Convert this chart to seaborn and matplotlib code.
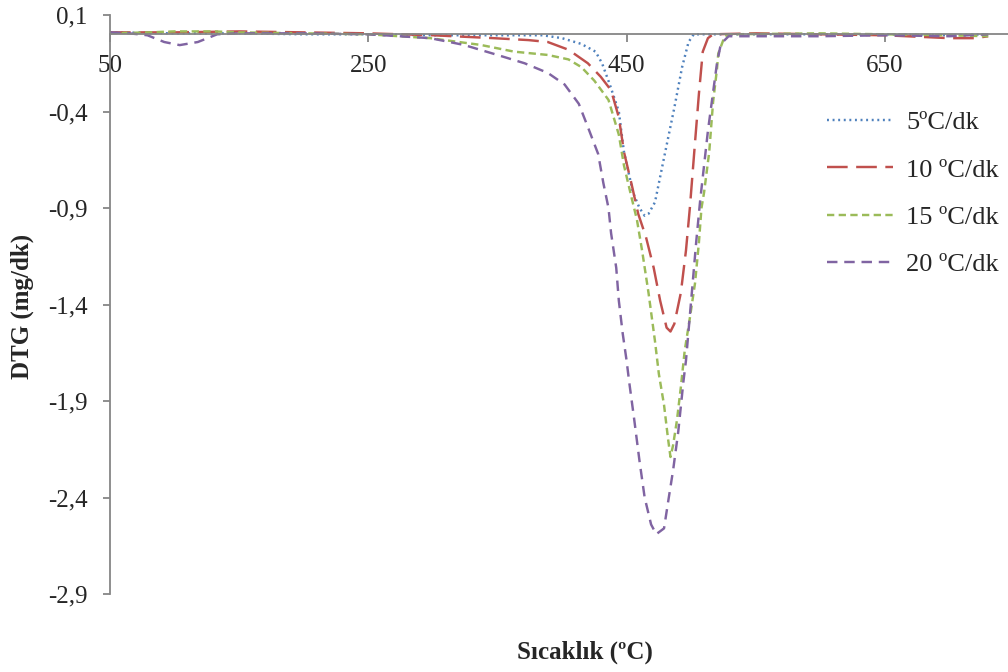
import pandas as pd
import matplotlib
matplotlib.use("Agg")
import matplotlib.pyplot as plt
import seaborn as sns

# DTG curves (temperature in C, DTG in mg/dk)
t5 = [50, 100, 150, 200, 250, 300, 350, 385, 400, 415, 426, 431, 437, 444, 448,
      455, 460, 464, 467, 472, 479, 487, 493, 498, 502, 550, 600, 650, 700, 730]
d5 = [0.01, 0.005, 0.005, 0.0, 0.0, -0.005, -0.005, -0.005, -0.02, -0.05, -0.09, -0.15, -0.26, -0.40, -0.61,
      -0.82, -0.90, -0.94, -0.93, -0.87, -0.64, -0.38, -0.17, -0.04, 0.0, 0.0, 0.0, 0.0, -0.005, 0.0]

t10 = [50, 100, 150, 200, 250, 300, 347, 374, 389, 405, 420, 430, 438, 444, 448, 454, 459, 465, 471,
       476, 481, 484, 487, 492, 496, 499, 503, 506, 509, 513, 517, 550, 600, 650, 700, 720, 730]
d10 = [0.01, 0.01, 0.015, 0.01, 0.005, -0.005, -0.02, -0.03, -0.04, -0.08, -0.15, -0.22, -0.29, -0.43,
       -0.61, -0.78, -0.93, -1.05, -1.21, -1.38, -1.52, -1.54, -1.50, -1.34, -1.12, -0.90, -0.56, -0.31,
       -0.09, -0.02, 0.0, 0.005, 0.0, -0.005, -0.02, -0.02, -0.01]

t15 = [50, 80, 100, 130, 150, 200, 250, 298, 337, 363, 389, 405, 415, 425, 436, 444, 448, 454, 458,
       462, 467, 472, 475, 479, 482, 484, 486, 489, 492, 495, 499, 503, 506, 508, 510, 514, 517, 520,
       521, 526, 531, 600, 650, 700, 730]
d15 = [0.005, 0.01, 0.015, 0.015, 0.01, 0.005, 0.0, -0.02, -0.055, -0.09, -0.107, -0.13, -0.17, -0.24,
       -0.34, -0.52, -0.68, -0.85, -0.96, -1.12, -1.34, -1.59, -1.76, -1.92, -2.09, -2.19, -2.13, -2.00,
       -1.83, -1.64, -1.47, -1.29, -1.08, -0.90, -0.82, -0.61, -0.35, -0.18, -0.10, -0.01, 0.0, 0.005,
       0.0, -0.005, -0.01]

t20 = [50, 65, 79, 92, 104, 118, 133, 150, 200, 250, 298, 324, 350, 371, 389, 402, 413, 420, 428, 432,
       436, 438, 442, 444, 447, 450, 452, 456, 460, 464, 469, 473, 479, 482, 486, 490, 494, 496, 500, 504,
       507, 510, 513, 517, 520, 523, 529, 537, 600, 650, 700, 730]
d20 = [0.01, 0.005, -0.005, -0.04, -0.056, -0.04, 0.0, 0.005, 0.005, 0.0, -0.02, -0.055, -0.107, -0.15,
       -0.20, -0.26, -0.36, -0.48, -0.62, -0.77, -0.90, -1.03, -1.21, -1.38, -1.55, -1.69, -1.80, -2.00,
       -2.21, -2.40, -2.54, -2.59, -2.56, -2.43, -2.26, -2.06, -1.80, -1.69, -1.38, -1.07, -0.86, -0.68,
       -0.50, -0.30, -0.15, -0.05, -0.01, -0.01, -0.01, -0.005, -0.01, 0.0]

labels = ["5ºC/dk", "10 ºC/dk", "15 ºC/dk", "20 ºC/dk"]
colors = ["#4F81BD", "#C0504D", "#9BBB59", "#8064A2"]
x_ticks = [50, 250, 450, 650]
y_ticks = [0.1, -0.4, -0.9, -1.4, -1.9, -2.4, -2.9]
y_ticklabels = ["0,1", "-0,4", "-0,9", "-1,4", "-1,9", "-2,4", "-2,9"]

df = pd.concat([
    pd.DataFrame({"T": t, "DTG": d, "hiz": lab})
    for t, d, lab in zip([t5, t10, t15, t20], [d5, d10, d15, d20], labels)
])

sns.set_theme(style="white")
plt.rcParams["font.family"] = ["Liberation Serif", "DejaVu Serif"]

fig = plt.figure(figsize=(10.08, 6.72), dpi=100)
ax = fig.add_axes([110 / 1008, 78 / 672, 904 / 1008, 579 / 672])

sns.lineplot(data=df, x="T", y="DTG", hue="hiz", style="hiz", hue_order=labels,
             style_order=labels, palette=dict(zip(labels, colors)),
             dashes={labels[0]: (0.8, 1.5), labels[1]: (8.5, 3.5),
                     labels[2]: (3.0, 1.8), labels[3]: (4.3, 2.8)},
             linewidth=1.75, sort=False, ax=ax)

ax.set_xlim(50, 750)
ax.set_ylim(-2.9, 0.1)
ax.set_xticks(x_ticks)
ax.set_xticklabels([str(v) for v in x_ticks])
ax.set_yticks(y_ticks)
ax.set_yticklabels(y_ticklabels)

axis_grey = "#868686"
for side in ["top", "right"]:
    ax.spines[side].set_visible(False)
ax.spines["bottom"].set_position(("data", 0))
for side in ["bottom", "left"]:
    ax.spines[side].set_color(axis_grey)
    ax.spines[side].set_linewidth(1.3)
ax.tick_params(axis="x", direction="out", length=6, width=1.3, color=axis_grey,
               pad=9, labelsize=18, bottom=True)
ax.tick_params(axis="y", direction="out", length=5, width=1.3, color=axis_grey,
               pad=11, labelsize=18, left=True)

ax.set_xlabel("Sıcaklık (ºC)", fontsize=18, fontweight="bold")
ax.set_ylabel("DTG (mg/dk)", fontsize=18, fontweight="bold")
ax.xaxis.set_label_coords(0.525, -0.10)
ax.xaxis.label.set_va("center")
ax.yaxis.set_label_coords(-0.097, 0.496)
ax.yaxis.label.set_va("center")

sns.move_legend(ax, "upper left", bbox_to_anchor=(827 / 1008, 1 - 111 / 672),
                bbox_transform=fig.transFigure, frameon=False, title=None,
                fontsize=19, handlelength=2.5, handletextpad=0.5,
                labelspacing=0.9, borderpad=0, borderaxespad=0)

fig.savefig("out.png", dpi=100)
